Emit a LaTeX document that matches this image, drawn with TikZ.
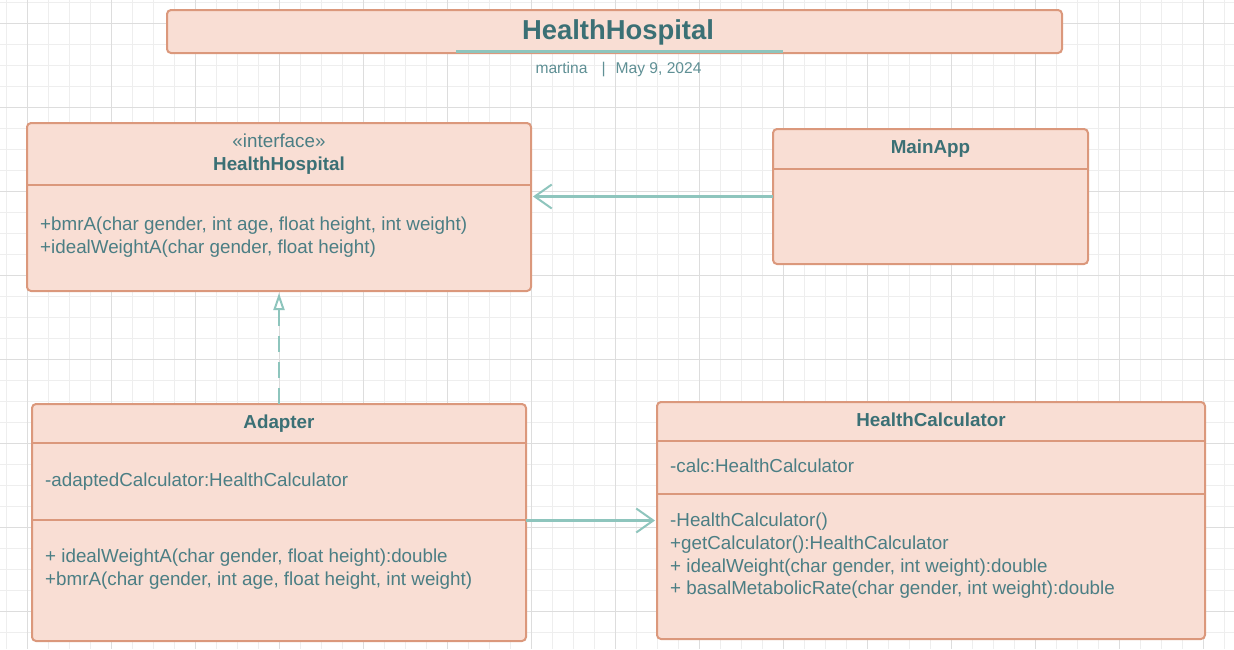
\documentclass[tikz,border=0pt]{standalone}
\usepackage{fontspec}
\setmainfont{Liberation Sans}
\usetikzlibrary{arrows.meta}
\definecolor{boxfill}{HTML}{F9DED4}
\definecolor{boxline}{HTML}{DB987C}
\definecolor{titletxt}{HTML}{3B7075}
\definecolor{bodytxt}{HTML}{4B7E84}
\definecolor{subtxt}{HTML}{5F9095}
\definecolor{conn}{HTML}{8EC5BD}
\definecolor{gridminor}{HTML}{EEEEEE}
\definecolor{gridmajor}{HTML}{DDDDDD}
\begin{document}
\begin{tikzpicture}[x=1pt,y=-1pt,
  cls/.style={draw=boxline, fill=boxfill, line width=2pt, rounded corners=4pt, inner sep=0pt, outer sep=0pt, anchor=north west},
  div/.style={draw=boxline, line width=2pt},
  ttl/.style={font=\bfseries\fontsize{18.8}{22}\selectfont, text=titletxt, inner sep=0pt, anchor=base},
  txt/.style={font=\fontsize{18.8}{22}\selectfont, text=bodytxt, inner sep=0pt, anchor=base west},
  assoc/.style={draw=conn, line width=2.5pt, -{Straight Barb[length=17pt,width=24pt,line width=2pt]}},
  realz/.style={draw=conn, line width=2pt, dash pattern=on 16pt off 10pt, -{Triangle[open,length=17pt,width=11pt,fill=white,line width=2pt]}}
]
\fill[white] (0,0) rectangle (1234,649);
\useasboundingbox (0,0) rectangle (1234,649);
% grid
\foreach \i [evaluate=\i as \gx using 6.7+21*\i] in {0,...,58}
  {\draw[gridminor, line width=1pt] (\gx,0) -- (\gx,649);}
\foreach \i [evaluate=\i as \gy using 2.3+21*\i] in {0,...,30}
  {\draw[gridminor, line width=1pt] (0,\gy) -- (1234,\gy);}
\foreach \i [evaluate=\i as \gx using 27.7+84*\i] in {0,...,14}
  {\draw[gridmajor, line width=1pt] (\gx,0) -- (\gx,649);}
\foreach \i [evaluate=\i as \gy using 23.3+84*\i] in {0,...,7}
  {\draw[gridmajor, line width=1pt] (0,\gy) -- (1234,\gy);}

% title
\node[cls, minimum width=895pt, minimum height=43pt] (tbox) at (167,10) {};
\node[font=\bfseries\fontsize{27.4}{30}\selectfont, text=titletxt, inner sep=0pt, anchor=base] (ttext) at (618,39.5) {HealthHospital};
\draw[conn, line width=3pt] ([xshift=-158.5pt, yshift=1.5pt]tbox.south) -- ([xshift=168.5pt, yshift=1.5pt]tbox.south);
\node[font=\fontsize{15.6}{18}\selectfont, text=subtxt, inner sep=0pt, anchor=base] (sub) at (618.5,73.5) {martina\hspace{14pt}|\hspace{10pt}May 9, 2024};

% interface HealthHospital
\node[cls, minimum width=504pt, minimum height=168pt] (hh) at (27,123) {};
\draw[div] ([yshift=-62pt]hh.north west) -- ([yshift=-62pt]hh.north east);
\node[txt, anchor=base] (hhst) at (279,147) {«interface»};
\node[ttl] (hhname) at (279,170) {HealthHospital};
\node[txt] (hhm1) at (40,230) {+bmrA(char gender, int age, float height, int weight)};
\node[txt] (hhm2) at (40,253) {+idealWeightA(char gender, float height)};

% MainApp
\node[cls, minimum width=315pt, minimum height=135pt] (main) at (773,129) {};
\draw[div] ([yshift=-40pt]main.north west) -- ([yshift=-40pt]main.north east);
\node[ttl] (mainname) at (930.5,153.5) {MainApp};

% Adapter
\node[cls, minimum width=494pt, minimum height=237pt] (ad) at (32,404) {};
\draw[div] ([yshift=-39pt]ad.north west) -- ([yshift=-39pt]ad.north east);
\draw[div] ([yshift=-116pt]ad.north west) -- ([yshift=-116pt]ad.north east);
\node[ttl] (adname) at (279,428) {Adapter};
\node[txt] (ada1) at (45,486) {-adaptedCalculator:HealthCalculator};
\node[txt] (adm1) at (45,562) {+ idealWeightA(char gender, float height):double};
\node[txt] (adm2) at (45,585) {+bmrA(char gender, int age, float height, int weight)};

% HealthCalculator
\node[cls, minimum width=548pt, minimum height=237pt] (hc) at (657,402) {};
\draw[div] ([yshift=-39pt]hc.north west) -- ([yshift=-39pt]hc.north east);
\draw[div] ([yshift=-92pt]hc.north west) -- ([yshift=-92pt]hc.north east);
\node[ttl] (hcname) at (931,426) {HealthCalculator};
\node[txt] (hca1) at (670,472.5) {-calc:HealthCalculator};
\node[txt] (hcm1) at (670,526.5) {-HealthCalculator()};
\node[txt] (hcm2) at (670,549.5) {+getCalculator():HealthCalculator};
\node[txt] (hcm3) at (670,572) {+ idealWeight(char gender, int weight):double};
\node[txt] (hcm4) at (670,594.5) {+ basalMetabolicRate(char gender, int weight):double};

% connectors
\draw[assoc] (main.west) -- ([xshift=2pt]main.west -| hh.east);
\draw[assoc] (ad.east |- hc.west) -- ([xshift=-2pt]hc.west);
\draw[realz] (ad.north) -- ([yshift=-2pt]hh.south);
\end{tikzpicture}
\end{document}
